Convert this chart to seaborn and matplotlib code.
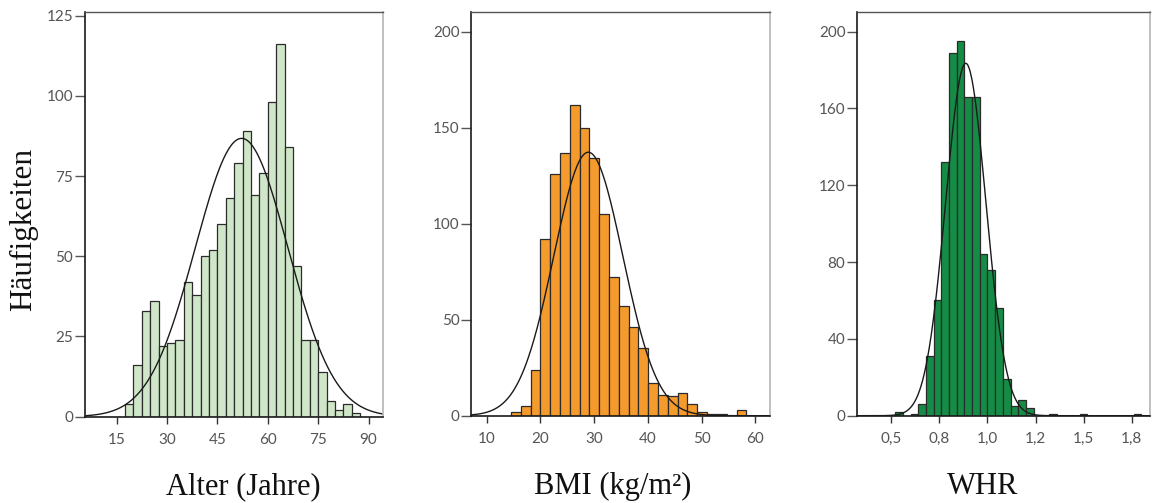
import numpy as np
import pandas as pd
import matplotlib
matplotlib.use("Agg")
import matplotlib.pyplot as plt
import seaborn as sns

# ---------------- data ----------------
age_bin_start = 17.5
age_bin_width = 2.5
age_counts = [4, 16, 33, 36, 22, 23, 24, 42, 38, 50, 52, 60, 68, 79, 89, 69,
              76, 98, 116, 84, 47, 24, 24, 14, 5, 2, 4, 1]
age_mean, age_sd = 52.2, 13.8
age_ticks = [15, 30, 45, 60, 75, 90]
age_tick_labels = ["15", "30", "45", "60", "75", "90"]
age_yticks = [0, 25, 50, 75, 100, 125]

bmi_bin_start = 14.5
bmi_bin_width = 1.825
bmi_counts = [2, 5, 24, 92, 126, 137, 162, 150, 134, 105, 72, 57, 46, 35, 17,
              11, 10, 12, 6, 2, 1, 1, 0, 3]
bmi_mean, bmi_sd = 28.9, 6.42
bmi_ticks = [10, 20, 30, 40, 50, 60]
bmi_tick_labels = ["10", "20", "30", "40", "50", "60"]
bmi_yticks = [0, 50, 100, 150, 200]

whr_bin_start = 0.52
whr_bin_width = 0.04
whr_counts = [2, 0, 1, 6, 31, 60, 132, 189, 195, 166, 166, 84, 76, 56, 19, 5,
              8, 4, 0, 0, 1, 0, 0, 0, 1, 0, 0, 0, 0, 0, 0, 1]
whr_mean, whr_sd = 0.887, 0.1046
whr_ticks = [0.5, 0.75, 1.0, 1.25, 1.5, 1.75]
whr_tick_labels = ["0,5", "0,8", "1,0", "1,2", "1,5", "1,8"]
whr_yticks = [0, 40, 80, 120, 160, 200]

x_labels = ["Alter (Jahre)", "BMI (kg/m²)", "WHR"]
y_label = "Häufigkeiten"

# ---------------- style ----------------
sns.set_theme(style="white")
plt.rcParams["font.family"] = ["Lato", "DejaVu Sans"]

W, H = 1153, 503
fig = plt.figure(figsize=(W / 100, H / 100), dpi=100)

panels = [
    dict(start=age_bin_start, width=age_bin_width, counts=age_counts,
         mean=age_mean, sd=age_sd, xticks=age_ticks, xtl=age_tick_labels,
         yticks=age_yticks, color="#cfe7c8", xlim=(5.57, 94.3), ylim=(0, 126.2),
         box=(85, 383, 11.7, 416.7)),
    dict(start=bmi_bin_start, width=bmi_bin_width, counts=bmi_counts,
         mean=bmi_mean, sd=bmi_sd, xticks=bmi_ticks, xtl=bmi_tick_labels,
         yticks=bmi_yticks, color="#f59a2c", xlim=(7.13, 62.7), ylim=(0, 210.4),
         box=(471.3, 770, 11.7, 415.7)),
    dict(start=whr_bin_start, width=whr_bin_width, counts=whr_counts,
         mean=whr_mean, sd=whr_sd, xticks=whr_ticks, xtl=whr_tick_labels,
         yticks=whr_yticks, color="#158c46", xlim=(0.323, 1.845), ylim=(0, 210.4),
         box=(857.3, 1150, 11.7, 415.7)),
]

for p in panels:
    l, r, t, b = p["box"]
    ax = fig.add_axes([l / W, 1 - b / H, (r - l) / W, (b - t) / H])
    n = len(p["counts"])
    lo = p["start"]
    hi = p["start"] + p["width"] * n
    centers = lo + p["width"] * (np.arange(n) + 0.5)
    df = pd.DataFrame({"x": centers, "w": np.asarray(p["counts"], dtype=float)})
    sns.histplot(data=df, x="x", weights="w", bins=n, binrange=(lo, hi), ax=ax,
                 color=p["color"], alpha=1, edgecolor="#2b2b2b", linewidth=0.9)
    # fitted normal curve
    xs = np.linspace(p["xlim"][0], p["xlim"][1], 400)
    total = float(np.sum(p["counts"]))
    ys = total * p["width"] / (p["sd"] * np.sqrt(2 * np.pi)) * \
        np.exp(-0.5 * ((xs - p["mean"]) / p["sd"]) ** 2)
    sns.lineplot(x=xs, y=ys, ax=ax, color="#1a1a1a", linewidth=1.0)

    ax.set_xlim(*p["xlim"])
    ax.set_ylim(*p["ylim"])
    ax.set_xticks(p["xticks"])
    ax.set_xticklabels(p["xtl"])
    ax.set_yticks(p["yticks"])
    ax.set_xlabel("")
    ax.set_ylabel("")
    ax.tick_params(axis="x", direction="out", length=5, width=1.0,
                   color="#333333", pad=6.5, labelsize=11, labelcolor="#555555",
                   bottom=True)
    ax.tick_params(axis="y", direction="out", length=7, width=1.0,
                   color="#555555", pad=1.5, labelsize=11, labelcolor="#555555",
                   left=True)
    ax.spines["left"].set_color("#1a1a1a")
    ax.spines["bottom"].set_color("#1a1a1a")
    ax.spines["left"].set_linewidth(1.2)
    ax.spines["bottom"].set_linewidth(1.2)
    ax.spines["top"].set_color("#555555")
    ax.spines["top"].set_linewidth(1.0)
    ax.spines["right"].set_color("#b5b5b5")
    ax.spines["right"].set_linewidth(1.2)
    for s in ax.spines.values():
        s.set_visible(True)
    ax.grid(False)

serif = ["Liberation Serif", "DejaVu Serif"]
label_x = [243, 613, 983]
for txt, xc in zip(x_labels, label_x):
    fig.text(xc / W, 1 - 494 / H, txt, ha="center", va="baseline",
             fontsize=22, family=serif, color="#111111")
fig.text(24 / W, 1 - 229 / H, y_label, ha="center", va="center",
         rotation=90, fontsize=22.5, family=serif, color="#111111")

fig.savefig("out.png", dpi=100)
